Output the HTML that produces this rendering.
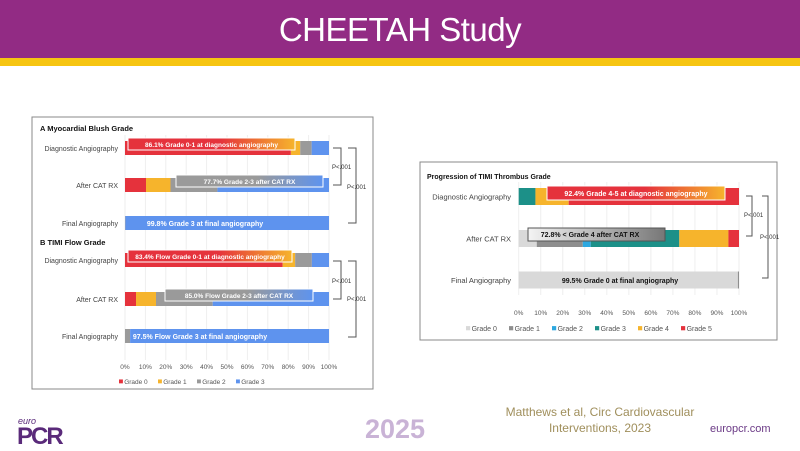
<!DOCTYPE html>
<html><head><meta charset="utf-8">
<style>
body{margin:0;width:800px;height:450px;overflow:hidden;background:#fff;font-family:"Liberation Sans",sans-serif;position:relative}
.hdr{position:absolute;left:0;top:0;width:800px;height:58px;background:#922B84;color:#fff;text-align:center;font-size:33px;line-height:60px;letter-spacing:-0.5px}
.stripe{position:absolute;left:0;top:58px;width:800px;height:8px;background:#F6C512}
.abs{position:absolute}
</style></head><body>
<div class="hdr">CHEETAH Study</div>
<div class="stripe"></div>
<svg class="abs" style="left:0;top:0" width="800" height="450" id="chart">
<rect x="32" y="117" width="341" height="272" fill="#fff" stroke="#888" stroke-width="1"/>
<rect x="420" y="162" width="357" height="178" fill="#fff" stroke="#888" stroke-width="1"/>
<g id="g"></g>
</svg>
<div class="abs" style="left:18px;top:416px;font-size:9px;color:#5a2a7a;font-style:italic">euro</div>
<div class="abs" style="left:17px;top:423px;font-size:24px;font-weight:bold;color:#5a2a7a;letter-spacing:-2px">PCR</div>
<div class="abs" style="left:365px;top:414px;font-size:27px;font-weight:bold;color:#c9b3d6">2025</div>
<div class="abs" style="left:480px;top:404px;width:240px;text-align:center;font-size:12px;color:#a08f5c;line-height:16px">Matthews et al, Circ Cardiovascular<br>Interventions, 2023</div>
<div class="abs" style="left:710px;top:423px;font-size:11px;color:#6b3a86">europcr.com</div>
<script>
const ticks=["0%","10%","20%","30%","40%","50%","60%","70%","80%","90%","100%"];
const catsLeft=["Diagnostic Angiography","After CAT RX","Final Angiography"];
const gradesLeft=["Grade 0","Grade 1","Grade 2","Grade 3"];
const blushG0=[81.3,10.3,0];
const blushG1=[4.6,12,0];
const blushG2=[5.6,23,0.2];
const blushG3=[8.5,54.7,99.8];
const flowG0=[77.3,5.4,0];
const flowG1=[6.1,9.8,0];
const flowG2=[8.2,27.8,2.5];
const flowG3=[8.4,57,97.5];
const catsRight=["Diagnostic Angiography","After CAT RX","Final Angiography"];
const gradesRight=["Grade 0","Grade 1","Grade 2","Grade 3","Grade 4","Grade 5"];
const thrG0=[0,8.2,99.5];
const thrG1=[0,20.9,0.5];
const thrG2=[0,3.6,0];
const thrG3=[7.6,40.2,0];
const thrG4=[15.1,22.3,0];
const thrG5=[77.3,4.8,0];
const colL=["#E5323C","#F6B42C","#9A9A9A","#5E93EE"];
const colR=["#D9D9D9","#8E8E8E","#2DA8E0","#1C9088","#F6B42C","#E5323C"];
const NS="http://www.w3.org/2000/svg";
const g=document.getElementById('g');
function mk(t,a,txt){const e=document.createElementNS(NS,t);for(const k in a)e.setAttribute(k,a[k]);if(txt!==undefined)e.textContent=txt;g.appendChild(e);return e;}
function xs(x0,x1){return v=>x0+(x1-x0)*v/100;}
function grid(x,yTop,yBot){for(let i=0;i<ticks.length;i++){const l=mk('line',{x1:x(i*10),x2:x(i*10),y1:yTop,y2:yBot,stroke:'#eee','stroke-width':1});}}
function bars(x,cats,series,cols,ys,h,fs,lx,prefix){
  cats.forEach((c,i)=>{
    const t=mk('text',{x:lx,y:ys[i]+3,'font-size':fs,fill:'#444','text-anchor':'end'},c);
    
    let acc=0;
    series.forEach((s,k)=>{const v=s[i];if(v>0){const r=mk('rect',{x:x(acc),y:ys[i]-h/2,width:x(acc+v)-x(acc),height:h,fill:cols[k]});
      }acc+=v;});
  });
}
function lbox(x1,x2,y,h,c1,c2,txt,tc,id,fs){
  const gr=document.createElementNS(NS,'linearGradient');gr.setAttribute('id',id);
  gr.innerHTML='<stop offset="0.55" stop-color="'+c1+'"/><stop offset="1" stop-color="'+c2+'"/>';g.appendChild(gr);
  const r=mk('rect',{x:x1,y:y-h/2,width:x2-x1,height:h,fill:'url(#'+id+')',stroke:'#fff','stroke-width':1});
  
  const t=mk('text',{x:(x1+x2)/2,y:y+3,'font-size':fs,fill:tc,'font-weight':'bold','text-anchor':'middle'},txt);
  
}
function ctext(x,y,txt,c){const t=mk('text',{x:x,y:y+3,'font-size':7,fill:c,'font-weight':'bold','text-anchor':'middle'},txt);}
function bracket(x,y1,y2,w,lx,ly){const p=mk('path',{d:`M${x} ${y1}H${x+w}V${y2}H${x}`,stroke:'#555',fill:'none','stroke-width':1});
  const t=mk('text',{x:lx,y:ly,'font-size':6,fill:'#333'},'P<.001');}
function legend(items,cols,x0,y,fs,gap){let x=x0;items.forEach((it,k)=>{const r=mk('rect',{x:x,y:y-fs*0.7,width:fs*0.6,height:fs*0.6,fill:cols[k]});
  const t=mk('text',{x:x+fs*0.8,y:y,'font-size':fs,fill:'#555'},it);x+=gap;});}
// Left
const xl=xs(125,329);
grid(xl,135,360);
let t=mk('text',{x:40,y:131,'font-size':7.5,'font-weight':'bold',fill:'#111'},'A  Myocardial Blush Grade');
t=mk('text',{x:40,y:245,'font-size':7.5,'font-weight':'bold',fill:'#111'},'B  TIMI Flow Grade');
bars(xl,catsLeft,[blushG0,blushG1,blushG2,blushG3],colL,[148,185,223],14,7,118,'blush');
bars(xl,catsLeft,[flowG0,flowG1,flowG2,flowG3],colL,[260,299,336],14,7,118,'flow');
lbox(128,295,144,12,"#E5323C","#F6B42C","86.1% Grade 0-1 at diagnostic angiography","#fff","ga1",6.5);
lbox(176,323,181,12,"#9A9A9A","#5E93EE","77.7% Grade 2-3 after CAT RX","#fff","ga2",6.5);
ctext(205,223,"99.8% Grade 3 at final angiography","#fff");
lbox(128,292,256,12,"#E5323C","#F6B42C","83.4% Flow Grade 0-1 at diagnostic angiography","#fff","gb1",6.5);
lbox(165,313,295,12,"#9A9A9A","#5E93EE","85.0% Flow Grade 2-3 after CAT RX","#fff","gb2",6.5);
ctext(200,336,"97.5% Flow Grade 3 at final angiography","#fff");
bracket(333,148,185,8,332,169);bracket(348,148,223,8,347,189);
bracket(333,261,299,8,332,283);bracket(348,261,337,8,347,301);
ticks.forEach((s,i)=>{const e=mk('text',{x:xl(i*10),y:369,'font-size':6.5,fill:'#555','text-anchor':'middle'},s);});
legend(gradesLeft,colL,119,384,6.5,39);
// Right
const xr=xs(518.7,739);
grid(xr,182,295);
t=mk('text',{x:427,y:179,'font-size':7,'font-weight':'bold',fill:'#111'},'Progression of TIMI Thrombus Grade');
bars(xr,catsRight,[thrG0,thrG1,thrG2,thrG3,thrG4,thrG5],colR,[196.5,238.5,280],17,7.5,511,'thrombus');
lbox(547,725,193,14,"#E5323C","#F6B42C","92.4% Grade 4-5 at diagnostic angiography","#fff","gc1",7);
(function(){const gr=document.createElementNS(NS,'linearGradient');gr.setAttribute('id','gc2');gr.innerHTML='<stop offset="0" stop-color="#f4f4f4"/><stop offset="1" stop-color="#777"/>';g.appendChild(gr);
const r=mk('rect',{x:528,y:228,width:137,height:13,fill:'url(#gc2)',stroke:'#555','stroke-width':1});
const tt=mk('text',{x:590,y:237,'font-size':7,'font-weight':'bold',fill:'#111','text-anchor':'middle'},'72.8% < Grade 4 after CAT RX');})();
t=mk('text',{x:620,y:283,'font-size':7,'font-weight':'bold',fill:'#111','text-anchor':'middle'},'99.5% Grade 0 at final angiography');
bracket(746,196,236,6,744,217);bracket(762,196,278,6,760,239);
ticks.forEach((s,i)=>{const e=mk('text',{x:xr(i*10),y:315,'font-size':6.5,fill:'#555','text-anchor':'middle'},s);});
legend(gradesRight,colR,466,331,7,43);
</script>
</body></html>
